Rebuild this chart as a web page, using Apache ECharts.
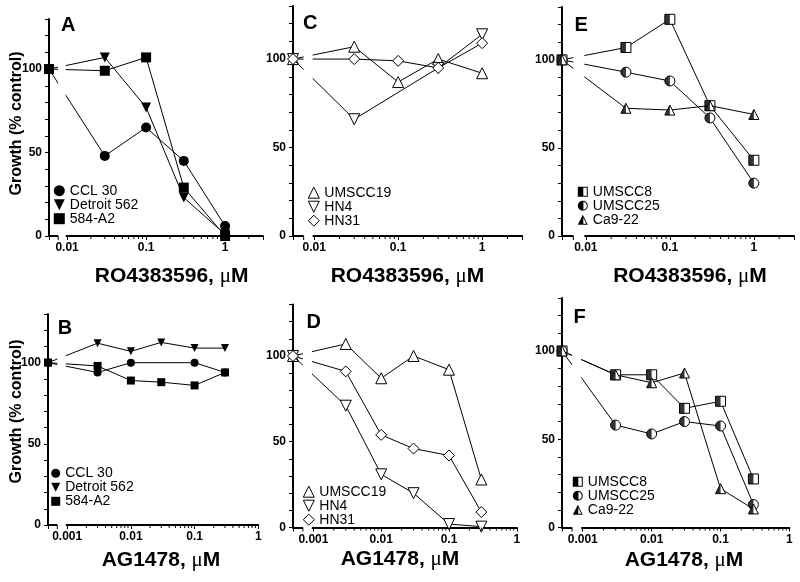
<!DOCTYPE html>
<html><head><meta charset="utf-8">
<script src="https://cdn.jsdelivr.net/npm/echarts@6/dist/echarts.min.js"></script>
<style>html,body{margin:0;padding:0;background:#fff}#c{width:800px;height:582px}</style>
</head><body><div id="c"></div>
<script>
// ---------------- data ----------------
const topDoses = [0.03, 0.1, 0.3, 1];              // RO4383596, µM
const bottomDoses = [0.003, 0.01, 0.03, 0.1, 0.3]; // AG1478, µM
const controlValue = 100;                          // untreated control (% control)
const topTickLabels = [0.01, 0.1, 1];
const bottomTickLabels = [0.001, 0.01, 0.1, 1];
const yTickLabels = [0, 50, 100];

const linesAB = ['CCL 30', 'Detroit 562', '584-A2'];
const linesCD = ['UMSCC19', 'HN4', 'HN31'];
const linesEF = ['UMSCC8', 'UMSCC25', 'Ca9-22'];

// Panel A (RO4383596)
const A_CCL30 = [48, 65, 45, 6];
const A_Detroit562 = [107, 77, 23, 1];
const A_584A2 = [99, 107, 29, 0];
// Panel B (AG1478)
const B_CCL30 = [94, 100, null, 100, 94];
const B_Detroit562 = [112, 107, 112.5, 109, 109];
const B_584A2 = [98, 89, 88, 86, 94];
// Panel C (RO4383596)
const C_UMSCC19 = [107, 87, 100, 92];
const C_HN4 = [66, null, 95, 114];
const C_HN31 = [100, 99, 95, 109];
// Panel D (AG1478)
const D_UMSCC19 = [107, 87, 100, 92, 28];
const D_HN4 = [71, 31, 20, 2, 0.5];
const D_HN31 = [91, 54, 46, 42, 9];
// Panel E (RO4383596)
const E_UMSCC8 = [107, 123, 74, 43];
const E_UMSCC25 = [93, 88, 67, 30];
const E_Ca922 = [72.5, 71.5, 74, 69];
// Panel F (AG1478)
const F_UMSCC8 = [86.5, 86.5, 67.5, 71.5, 27.5];
const F_UMSCC25 = [58, 53, 60, 57.5, 13];
const F_Ca922 = [86.5, 82, 87.5, 22, 10.5];

// minor log ticks
const topMinorTicks = [0.02,0.03,0.04,0.05,0.06,0.07,0.08,0.09,0.2,0.3,0.4,0.5,0.6,0.7,0.8,0.9,2];
const bottomMinorTicks = [0.002,0.003,0.004,0.005,0.006,0.007,0.008,0.009,0.02,0.03,0.04,0.05,0.06,0.07,0.08,0.09,0.2,0.3,0.4,0.5,0.6,0.7,0.8,0.9];

// ---------------- styles & layout ----------------
const FONT = '"Liberation Sans", Arial, sans-serif';
const invTri = 'path://M0,0 L10,0 L5,10 Z';
const STY = {
  filled: { symbols: ['circle', invTri, 'rect'], fill: '#000', border: 0,
            legendIcons: ['circle', invTri, 'rect'] },
  open: { symbols: ['triangle', invTri, 'diamond'], fill: '#fff', border: 1,
          legendIcons: ['triangle', invTri, 'diamond'] },
  half: { symbols: ['rect', 'circle', 'triangle'], fill: '#fff', border: 1,
          halves: ['rect', 'path://M1,0 A1,1 0 0,0 1,2 Z', 'path://M1,0 L1,1 L0,1 Z'],
          legendIcons: [
            'path://M0,0 L10,0 L10,10 L0,10 Z M5.5,1 L5.5,9 L9,9 L9,1 Z',
            'path://M5,0 A5,5 0 1,1 5,10 A5,5 0 1,1 5,0 Z M5.6,1.05 L5.6,8.95 A4,4 0 0,0 5.6,1.05 Z',
            'path://M5,0 L10,10 L0,10 Z M5.5,3 L5.5,9.1 L8.5,9.1 Z'] }
};

const panels = [
  { letter:'A', names: linesAB, doses: topDoses, values: [A_CCL30, A_Detroit562, A_584A2], sty: STY.filled,
    ticks: topTickLabels, minor: topMinorTicks, drug: 'RO4383596, ',
    left:49, top:19, height:217, decade:79, xMin:0.0059, xMax:3, bs:0.0077, be:0.0096, sym:10,
    lg:[53.8,183.7,11], lt:[68.3,25.4], tt:[171.7,276] },
  { letter:'C', names: linesCD, doses: topDoses, values: [C_UMSCC19, C_HN4, C_HN31], sty: STY.open,
    ticks: topTickLabels, minor: topMinorTicks, drug: 'RO4383596, ',
    left:293, top:6, height:230, decade:84, xMin:0.0056, xMax:3, bs:0.0075, be:0.0096, sym:11,
    lg:[307.8,185.7,11], lt:[310.3,23.3], tt:[407.5,276] },
  { letter:'E', names: linesEF, doses: topDoses, values: [E_UMSCC8, E_UMSCC25, E_Ca922], sty: STY.half,
    ticks: topTickLabels, minor: topMinorTicks, drug: 'RO4383596, ',
    left:562, top:7, height:229, decade:84, xMin:0.0052, xMax:3, bs:0.0071, be:0.0096, sym:10,
    lg:[577.8,184.7,10], lt:[581.2,25.3], tt:[690,276] },
  { letter:'B', names: linesAB, doses: bottomDoses, values: [B_CCL30, B_Detroit562, B_584A2], sty: STY.filled,
    ticks: bottomTickLabels, minor: bottomMinorTicks, drug: 'AG1478, ',
    left:48, top:314, height:211, decade:63.7, xMin:0.0005, xMax:1, bs:0.0007, be:0.00095, sym:8,
    lg:[51.2,466.3,9], lt:[65,328.8], tt:[161,560] },
  { letter:'D', names: linesCD, doses: bottomDoses, values: [D_UMSCC19, D_HN4, D_HN31], sty: STY.open,
    ticks: bottomTickLabels, minor: bottomMinorTicks, drug: 'AG1478, ',
    left:293, top:304.5, height:223, decade:67.8, xMin:0.0005, xMax:1, bs:0.0007, be:0.00095, sym:11,
    lg:[302.8,484.7,11], lt:[313.7,322.2], tt:[400,559] },
  { letter:'F', names: linesEF, doses: bottomDoses, values: [F_UMSCC8, F_UMSCC25, F_Ca922], sty: STY.half,
    ticks: bottomTickLabels, minor: bottomMinorTicks, drug: 'AG1478, ',
    left:562, top:298, height:229.5, decade:68.9, xMin:0.0005, xMax:1, bs:0.0007, be:0.00095, sym:10,
    lg:[572.8,474.7,10], lt:[579.7,317.3], tt:[684,560] }
];
const Y_MAX = 130;

// ---------------- build option ----------------
const grids = [], xAxes = [], yAxes = [], series = [], legends = [], graphics = [];
panels.forEach((p, pi) => {
  const width = p.decade * (Math.log10(p.xMax) - Math.log10(p.xMin));
  grids.push({ left: p.left, top: p.top, width: width, height: p.height, containLabel: false, outerBoundsMode: 'none' });
  xAxes.push({
    type: 'log', logBase: 10, gridIndex: pi, min: p.xMin, max: p.xMax,
    axisLine: { onZero: false, lineStyle: { color: '#000', width: 2 } },
    axisTick: { show: true, length: 4, lineStyle: { color: '#000', width: 1 } },
    axisLabel: { color: '#000', fontFamily: FONT, fontWeight: 'bold', fontSize: 12, margin: 6,
      formatter: v => { const t = p.ticks.find(k => Math.abs(k - v) / k < 1e-6); return t === undefined ? '' : String(t); } },
    splitLine: { show: false }, minorTick: { show: false }
  });
  yAxes.push({
    type: 'value', gridIndex: pi, min: 0, max: Y_MAX, interval: 10,
    axisLine: { show: true, onZero: false, lineStyle: { color: '#000', width: 2 } },
    axisTick: { show: true, length: 4, lineStyle: { color: '#000', width: 1 } },
    axisLabel: { color: '#000', fontFamily: FONT, fontWeight: 'bold', fontSize: 12, margin: 7,
      formatter: v => yTickLabels.includes(v) ? String(v) : '' },
    splitLine: { show: false }
  });
  const st = p.sty;
  p.names.forEach((name, si) => {
    const vals = p.values[si];
    const data = [[p.xMin, controlValue]];
    p.doses.forEach((d, j) => { if (vals[j] != null) data.push([d, vals[j]]); });
    series.push({
      type: 'line', name: name, xAxisIndex: pi, yAxisIndex: pi, data: data,
      symbol: st.symbols[si], symbolSize: p.sym, showSymbol: true, clip: false, z: 2 + si * 2,
      lineStyle: { color: '#000', width: 1 },
      itemStyle: { color: st.fill, borderColor: '#000', borderWidth: st.border },
      emphasis: { disabled: true }, silent: true
    });
    if (st.halves) {
      series.push({
        type: 'scatter', name: name + ' half', xAxisIndex: pi, yAxisIndex: pi, data: data,
        symbol: st.halves[si], symbolSize: [p.sym / 2, p.sym], symbolOffset: [-p.sym / 4, 0],
        itemStyle: { color: '#000' }, z: 3 + si * 2, clip: false, silent: true, emphasis: { disabled: true }
      });
    }
  });
  // axis break mask (hides lines and x-axis line in the break)
  series.push({
    type: 'custom', xAxisIndex: pi, yAxisIndex: pi, z: 20, silent: true, clip: false,
    data: [[p.bs, p.be]],
    renderItem: (params, api) => {
      const a = api.coord([api.value(0), Y_MAX]);
      const b = api.coord([api.value(1), 0]);
      return { type: 'group', children: [
        { type: 'rect', shape: { x: a[0], y: a[1] - 1, width: b[0] - a[0], height: b[1] - a[1] + 3 }, style: { fill: '#fff' } },
        { type: 'line', shape: { x1: a[0], y1: b[1], x2: a[0], y2: b[1] + 4 }, style: { stroke: '#000', lineWidth: 1 } }
      ] };
    }
  });
  // minor log ticks
  series.push({
    type: 'custom', xAxisIndex: pi, yAxisIndex: pi, z: 21, silent: true, clip: false,
    data: p.minor.map(v => [v, 0]),
    renderItem: (params, api) => {
      const c = api.coord([api.value(0), 0]);
      return { type: 'line', shape: { x1: c[0], y1: c[1], x2: c[0], y2: c[1] + 3 }, style: { stroke: '#000', lineWidth: 1 } };
    }
  });
  legends.push({
    orient: 'vertical', left: p.lg[0], top: p.lg[1], padding: 0, itemGap: 0, z: 60,
    itemWidth: p.lg[2], itemHeight: p.lg[2], selectedMode: false,
    textStyle: { fontSize: 14, fontFamily: FONT, color: '#000', lineHeight: 14 },
    data: p.names.map((n, si) => ({
      name: n, icon: st.legendIcons[si],
      itemStyle: st.halves ? { color: '#000', borderWidth: 0 }
                           : { color: st.fill, borderColor: '#000', borderWidth: st.border }
    }))
  });
  graphics.push({ type: 'text', x: p.lt[0], y: p.lt[1], z: 60, silent: true,
    style: { text: p.letter, fontSize: 20, fontWeight: 'bold', fontFamily: FONT, fill: '#000',
             align: 'center', verticalAlign: 'middle', textAlign: 'center', textVerticalAlign: 'middle' } });
  graphics.push({ type: 'text', x: p.tt[0], y: p.tt[1], z: 60, silent: true,
    style: { text: '{a|' + p.drug + '}{m|\u03bc}{a|M}', fill: '#000',
             rich: { a: { fontSize: 21, fontWeight: 'bold', fontFamily: FONT, fill: '#000' },
                     m: { fontSize: 21, fontWeight: 'normal', fontFamily: '"Liberation Serif", serif', fill: '#000' } },
             align: 'center', verticalAlign: 'middle', textAlign: 'center', textVerticalAlign: 'middle' } });
});
[123.5, 411.5].forEach(cy => {
  graphics.push({ type: 'text', x: 17, y: cy, rotation: Math.PI / 2, z: 60, silent: true,
    style: { text: 'Growth (% control)', fontSize: 16, fontWeight: 'bold', fontFamily: FONT, fill: '#000',
             align: 'center', verticalAlign: 'middle', textAlign: 'center', textVerticalAlign: 'middle' } });
});

const chart = echarts.init(document.getElementById('c'), null, { renderer: 'canvas' });
chart.setOption({
  animation: false,
  backgroundColor: '#fff',
  grid: grids, xAxis: xAxes, yAxis: yAxes, series: series, legend: legends, graphic: { elements: graphics },
  tooltip: { show: false }
});
</script></body></html>
